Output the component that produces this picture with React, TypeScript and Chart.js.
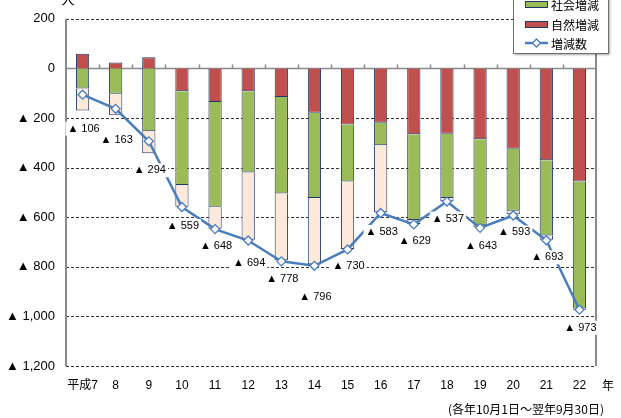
import React, { useEffect, useRef } from "react";
import { Chart, registerables } from "chart.js";

Chart.register(...registerables);

// ---- data ----
const years = ["平成7", "8", "9", "10", "11", "12", "13", "14", "15", "16", "17", "18", "19", "20", "21", "22"];
const naturalChange = [59, 24, 45, -92, -135, -92, -115, -179, -226, -219, -266, -264, -286, -324, -370, -456];
const socialChange = [-81, -102, -253, -378, -423, -328, -389, -344, -230, -91, -345, -259, -346, -250, -304, -512];
const otherChange = [-89, -87, -89, -88, -89, -271, -270, -267, -272, -270, -16, -13, -9, -14, -17, -5];
const totalChange = [-106, -163, -294, -559, -648, -694, -778, -796, -730, -583, -629, -537, -643, -593, -693, -973];
const yTickValues = [200, 0, -200, -400, -600, -800, -1000, -1200];
const legendLabels = ["社会増減", "自然増減", "増減数"];
const unitLabel = "人";
const yearSuffix = "年";
const periodNote = "(各年10月1日～翌年9月30日)";

// label placement (style only: vertical offset of each value label below its point)
const labelOffsetY = [34, 31, 29, 19, 17, 22, 18, 31, 17, 19, 17, 17, 18, 17, 17, 18];

const GREEN = "#9BBB59";
const RED = "#C0504D";
const PINK = "#FDE9D9";
const NAVY = "#1F3864";
const BLUE = "#4A7EBB";
const NUM_FONT = "'Liberation Sans', Arial, sans-serif";
const JP_FONT = "'Noto Sans CJK JP', sans-serif";
const MIX_FONT = "'Liberation Sans Narrow', 'Liberation Sans', 'Noto Sans CJK JP', sans-serif";

const fmtNeg = (v: number) => {
  if (v === 0) return "0";
  const s = Math.abs(v).toLocaleString("en-US");
  return v < 0 ? "▲ " + s : s;
};

const drawDiamond = (ctx: CanvasRenderingContext2D, cx: number, cy: number, r: number) => {
  ctx.beginPath();
  ctx.moveTo(cx, cy - r);
  ctx.lineTo(cx + r, cy);
  ctx.lineTo(cx, cy + r);
  ctx.lineTo(cx - r, cy);
  ctx.closePath();
  ctx.fillStyle = "#fff";
  ctx.fill();
  ctx.lineWidth = 1.3;
  ctx.strokeStyle = BLUE;
  ctx.stroke();
};

const overlay = {
  id: "overlay",
  beforeDatasetsDraw(chart: any) {
    const { ctx, chartArea: a, scales } = chart;
    const y = scales.y;
    const x = scales.x;
    ctx.save();
    // dashed grid lines
    ctx.setLineDash([3, 2]);
    ctx.lineWidth = 1;
    ctx.strokeStyle = "#333";
    yTickValues.forEach((v) => {
      if (v === 0) return;
      const py = Math.round(y.getPixelForValue(v)) + 0.5;
      ctx.beginPath();
      ctx.moveTo(a.left, py);
      ctx.lineTo(a.right, py);
      ctx.stroke();
    });
    ctx.setLineDash([]);
    // zero axis with category ticks
    const y0 = Math.round(y.getPixelForValue(0)) + 0.5;
    ctx.strokeStyle = "#8a8a8a";
    ctx.lineWidth = 1.5;
    ctx.beginPath();
    ctx.moveTo(a.left, y0);
    ctx.lineTo(a.right, y0);
    const w = (a.right - a.left) / years.length;
    for (let k = 1; k < years.length; k++) {
      const px = Math.round(x.getPixelForValue(k) - w / 2) + 0.5;
      ctx.moveTo(px, y0);
      ctx.lineTo(px, y0 - 4);
    }
    ctx.stroke();
    // left / right borders
    ctx.lineWidth = 2;
    ctx.beginPath();
    ctx.moveTo(a.left, a.top);
    ctx.lineTo(a.left, a.bottom);
    ctx.moveTo(a.right, a.top);
    ctx.lineTo(a.right, a.bottom);
    ctx.stroke();
    ctx.restore();
  },
  afterDatasetsDraw(chart: any) {
    const { ctx, chartArea: a } = chart;
    ctx.save();
    // value labels
    const meta = chart.getDatasetMeta(3);
    ctx.font = `11px ${NUM_FONT}`;
    ctx.textAlign = "center";
    ctx.textBaseline = "middle";
    totalChange.forEach((v, i) => {
      const pt = meta.data[i];
      const cx = pt.x + 1;
      const cy = pt.y + labelOffsetY[i];
      const t = fmtNeg(v);
      const tw = ctx.measureText(t).width;
      ctx.fillStyle = "#fff";
      ctx.fillRect(cx - tw / 2 - 2, cy - 7, tw + 4, 14);
      ctx.fillStyle = "#000";
      ctx.fillText(t, cx, cy);
    });

    // legend box
    const lx = 513, ly = -30, lw = 95, lh = 83;
    ctx.save();
    ctx.shadowColor = "rgba(0,0,0,0.35)";
    ctx.shadowOffsetX = 2;
    ctx.shadowOffsetY = 2;
    ctx.shadowBlur = 2;
    ctx.fillStyle = "#fff";
    ctx.fillRect(lx, ly, lw, lh);
    ctx.restore();
    ctx.strokeStyle = "#6f6f6f";
    ctx.lineWidth = 1;
    ctx.strokeRect(lx + 0.5, ly + 0.5, lw, lh);
    const rows = [4, 24, 43];
    ctx.font = `12px ${JP_FONT}`;
    ctx.textAlign = "left";
    ctx.textBaseline = "middle";
    [GREEN, RED].forEach((c, i) => {
      ctx.fillStyle = c;
      ctx.fillRect(525, rows[i] - 3, 22, 6);
      ctx.strokeStyle = NAVY;
      ctx.strokeRect(525.5, rows[i] - 3 + 0.5, 22, 6);
    });
    ctx.strokeStyle = BLUE;
    ctx.lineWidth = 2.5;
    ctx.beginPath();
    ctx.moveTo(525, rows[2]);
    ctx.lineTo(548, rows[2]);
    ctx.stroke();
    drawDiamond(ctx, 536.5, rows[2], 4);
    ctx.fillStyle = "#000";
    legendLabels.forEach((t, i) => ctx.fillText(t, 551, rows[i] + 1));

    // unit / suffix / note
    ctx.font = `13px ${JP_FONT}`;
    ctx.textAlign = "center";
    ctx.textBaseline = "bottom";
    ctx.fillText(unitLabel, 68, 6);
    ctx.font = `12px ${JP_FONT}`;
    ctx.textAlign = "left";
    ctx.textBaseline = "middle";
    ctx.fillText(yearSuffix, a.right + 6, 385);
    ctx.textAlign = "right";
    ctx.fillText(periodNote, 604, 409);
    ctx.restore();
  },
};

export default function App() {
  const ref = useRef<HTMLCanvasElement | null>(null);
  useEffect(() => {
    if (!ref.current) return;
    const chart = new Chart(ref.current, {
      type: "bar",
      data: {
        labels: years,
        datasets: [
          {
            type: "bar",
            label: "自然増減",
            data: naturalChange,
            backgroundColor: RED,
            borderColor: NAVY,
            borderWidth: 1,
            stack: "a",
            order: 1,
            categoryPercentage: 1,
            barPercentage: 0.4,
          },
          {
            type: "bar",
            label: "社会増減",
            data: socialChange,
            backgroundColor: GREEN,
            borderColor: NAVY,
            borderWidth: 1,
            stack: "a",
            order: 1,
            categoryPercentage: 1,
            barPercentage: 0.4,
          },
          {
            type: "bar",
            label: "その他",
            data: otherChange,
            backgroundColor: PINK,
            borderColor: NAVY,
            borderWidth: 1,
            stack: "a",
            order: 1,
            categoryPercentage: 1,
            barPercentage: 0.4,
          },
          {
            type: "line",
            label: "増減数",
            data: totalChange,
            borderColor: BLUE,
            borderWidth: 2.5,
            pointStyle: "rectRot",
            pointRadius: 4.5,
            pointBorderWidth: 1.3,
            pointBackgroundColor: "#fff",
            pointBorderColor: BLUE,
            stack: "line",
            order: 0,
            tension: 0,
          } as any,
        ],
      },
      options: {
        responsive: false,
        animation: false,
        layout: { padding: { top: 18, right: 25, bottom: 0, left: 0 } },
        plugins: { legend: { display: false }, tooltip: { enabled: false } },
        scales: {
          x: {
            stacked: true,
            grid: { display: false, drawTicks: false },
            border: { display: false },
            ticks: {
              padding: 12,
              color: "#000",
              font: { family: MIX_FONT, size: 12 },
              maxRotation: 0,
              autoSkip: false,
            },
            afterFit: (s: any) => {
              s.height = 52;
            },
          },
          y: {
            stacked: true,
            min: -1200,
            max: 200,
            grid: { display: false, drawTicks: false },
            border: { display: false },
            ticks: {
              stepSize: 200,
              padding: 11,
              color: "#000",
              font: { family: NUM_FONT, size: 13 },
              callback: (v: any) => fmtNeg(Number(v)),
            },
            afterFit: (s: any) => {
              s.width = 66;
            },
          },
        },
      },
      plugins: [overlay],
    });
    return () => chart.destroy();
  }, []);
  return (
    <div style={{ position: "fixed", left: 0, top: 0, width: 621, height: 418, background: "#fff" }}>
      <canvas ref={ref} width={621} height={418} style={{ width: 621, height: 418, display: "block" }} />
    </div>
  );
}
